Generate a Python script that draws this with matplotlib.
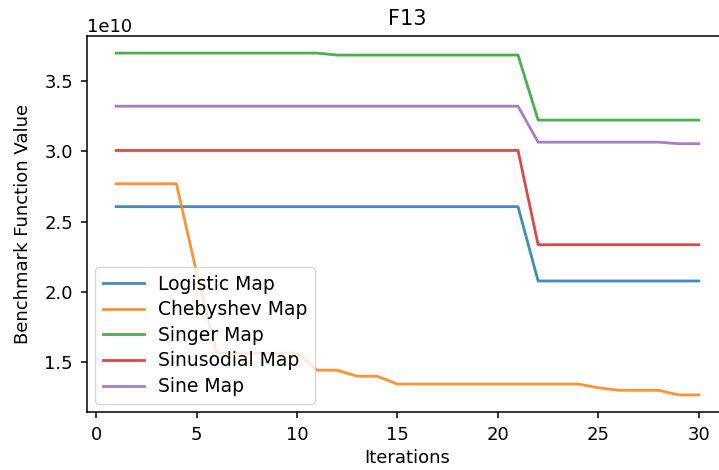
import matplotlib.pyplot as plt
import numpy as np

# best fitness per iteration for each chaotic map (F13)
iterations = np.arange(1, 31)

logistic = [2.607] * 21 + [2.078] * 9
chebyshev = [2.77, 2.77, 2.77, 2.77, 2.14,
             1.565, 1.565, 1.565, 1.565, 1.565,
             1.443, 1.443, 1.40, 1.40,
             1.344, 1.344, 1.344, 1.344, 1.344, 1.344, 1.344, 1.344, 1.344, 1.344,
             1.318, 1.30, 1.30, 1.30, 1.267, 1.267]
singer = [3.70] * 11 + [3.686] * 10 + [3.223] * 9
sinusodial = [3.007] * 21 + [2.336] * 9
sine = [3.322] * 21 + [3.066] * 7 + [3.055] * 2

names = ['Logistic Map', 'Chebyshev Map', 'Singer Map', 'Sinusodial Map', 'Sine Map']
series = [logistic, chebyshev, singer, sinusodial, sine]

fig = plt.figure(figsize=(7.19, 4.70), dpi=100)
# axes run a little past the right edge of the figure
ax = fig.add_axes([87 / 719, 58 / 470, 641 / 719, 376 / 470])

for name, vals in zip(names, series):
    ax.plot(iterations, np.array(vals) * 1e10, label=name, linewidth=2.0, alpha=0.85)

for sp in ax.spines.values():
    sp.set_linewidth(1.1)

ax.set_title('F13', fontsize=15, pad=8)
ax.set_xlabel('Iterations', fontsize=13, labelpad=4)
ax.set_ylabel('Benchmark Function Value', fontsize=13, labelpad=9)
ax.tick_params(labelsize=13, length=4.5, width=1.1, pad=5.5)
ax.yaxis.get_offset_text().set_fontsize(13)
ax.legend(loc='lower left', fontsize=13.5, labelspacing=0.35,
          handlelength=2.2, handletextpad=0.75, borderaxespad=0.45)

plt.savefig('out.png', dpi=100)
plt.close()
